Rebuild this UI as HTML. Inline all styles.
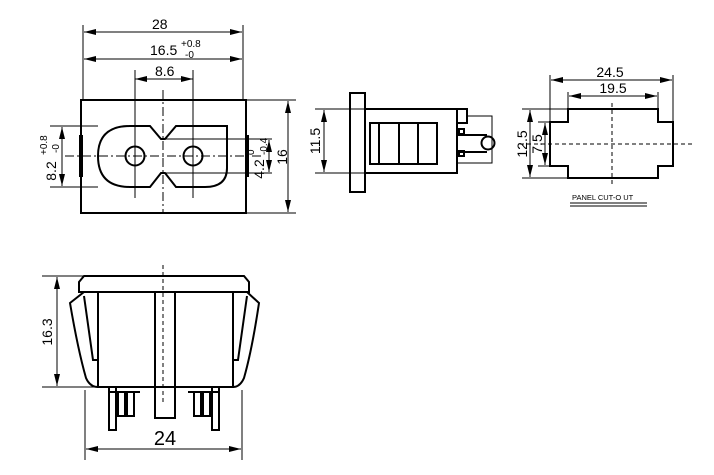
<!DOCTYPE html>
<html><head><meta charset="utf-8"><style>html,body{margin:0;padding:0;background:#fff}svg{display:block}</style></head>
<body>
<svg width="714" height="475" viewBox="0 0 714 475" xmlns="http://www.w3.org/2000/svg" font-family="Liberation Sans, sans-serif" fill="none" stroke="#000">
<defs>
<marker id="a" viewBox="0 0 12 6" refX="12" refY="3" markerWidth="12" markerHeight="6" orient="auto-start-reverse" markerUnits="userSpaceOnUse"><path d="M0,0 L12,3 L0,6z" fill="#000" stroke="none"/></marker>
</defs>
<g stroke-width="1">
<line x1="83" y1="25" x2="83" y2="100"/><line x1="243" y1="25" x2="243" y2="100"/>
<line x1="84" y1="32" x2="242" y2="32" marker-start="url(#a)" marker-end="url(#a)"/>
<line x1="84" y1="59" x2="242" y2="59" marker-start="url(#a)" marker-end="url(#a)"/>
<line x1="135" y1="70" x2="135" y2="198"/><line x1="193" y1="70" x2="193" y2="198"/>
<line x1="135" y1="79" x2="193" y2="79" marker-start="url(#a)" marker-end="url(#a)"/>
<line x1="163" y1="90" x2="163" y2="213" stroke-dasharray="9,3,2,3"/>
<line x1="65" y1="156" x2="262" y2="156" stroke-dasharray="9,3,2,3"/>
<line x1="50" y1="126" x2="98" y2="126"/><line x1="50" y1="187" x2="98" y2="187"/>
<line x1="62" y1="127" x2="62" y2="186" marker-start="url(#a)" marker-end="url(#a)"/>
<line x1="163" y1="139" x2="272" y2="139"/><line x1="163" y1="173" x2="272" y2="173"/>
<line x1="269" y1="140" x2="269" y2="172" marker-start="url(#a)" marker-end="url(#a)"/>
<line x1="246" y1="100" x2="296" y2="100"/><line x1="246" y1="213" x2="296" y2="213"/>
<line x1="288" y1="101" x2="288" y2="212" marker-start="url(#a)" marker-end="url(#a)"/>
</g>
<g stroke-width="2">
<rect x="81" y="100" width="165" height="113"/>
<path d="M130,126 H150 L161,139 H165 L176,126 H227 V168 Q227,187 205,187 H176 L165,173 H161 L150,187 H130 Q98,187 98,156 Q98,126 130,126Z"/>
<circle cx="135" cy="156" r="9.5"/><circle cx="193" cy="156" r="9.5"/>
</g>
<rect x="79" y="135" width="4" height="42" fill="#000" stroke="none"/>
<rect x="245" y="135" width="4" height="42" fill="#000" stroke="none"/>
<g fill="#000" stroke="none" font-size="14">
<text x="152" y="29">28</text>
<text x="150" y="55">16.5</text><text x="181" y="47" font-size="10">+0.8</text><text x="185" y="58" font-size="10">-0</text>
<text x="155" y="76">8.6</text>
<g transform="translate(56,157) rotate(-90)"><text x="-14" y="0" text-anchor="middle">8.2</text><text x="2" y="-9" font-size="10">+0.8</text><text x="4" y="3" font-size="10">-0</text></g>
<g transform="translate(264,157) rotate(-90)"><text x="-12" y="0" text-anchor="middle">4.2</text><text x="2" y="-10" font-size="10">0</text><text x="2" y="3" font-size="10">-0.4</text></g>
<text transform="translate(287,157) rotate(-90)" text-anchor="middle">16</text>
<text transform="translate(320,141) rotate(-90)" text-anchor="middle">11.5</text>
<text x="610" y="77" text-anchor="middle">24.5</text>
<text x="613" y="93" text-anchor="middle">19.5</text>
<text transform="translate(527,144) rotate(-90)" text-anchor="middle">12.5</text>
<text transform="translate(542,144) rotate(-90)" text-anchor="middle">7.5</text>
<text x="572" y="200" font-size="7.5">PANEL CUT-O UT</text>
<text transform="translate(52,332) rotate(-90)" text-anchor="middle">16.3</text>
<text x="165" y="445" text-anchor="middle" font-size="20">24</text>
</g>
<g stroke-width="1">
<line x1="315" y1="109" x2="365" y2="109"/><line x1="315" y1="173" x2="365" y2="173"/>
<line x1="324" y1="110" x2="324" y2="172" marker-start="url(#a)" marker-end="url(#a)"/>
</g>
<g stroke-width="2">
<rect x="350" y="93" width="15" height="99"/>
<rect x="365" y="109" width="92" height="64"/>
<rect x="370" y="123" width="67" height="41"/>
<line x1="379" y1="123" x2="379" y2="164"/><line x1="399" y1="123" x2="399" y2="164"/><line x1="418" y1="123" x2="418" y2="164"/>
<rect x="457" y="109" width="10" height="14"/>
<path d="M467,116 H492 V163 H457" stroke-width="1"/>
<line x1="457" y1="135" x2="487" y2="135"/><line x1="457" y1="152" x2="487" y2="152"/>
<rect x="459" y="129" width="5" height="5"/><rect x="459" y="151" width="5" height="5"/>
<circle cx="488" cy="143" r="6.5"/>
</g>
<g stroke-width="1">
<line x1="550" y1="75" x2="550" y2="122"/><line x1="673" y1="75" x2="673" y2="122"/>
<line x1="551" y1="80" x2="672" y2="80" marker-start="url(#a)" marker-end="url(#a)"/>
<line x1="568" y1="92" x2="568" y2="109"/><line x1="658" y1="92" x2="658" y2="109"/>
<line x1="569" y1="96" x2="657" y2="96" marker-start="url(#a)" marker-end="url(#a)"/>
<line x1="522" y1="109" x2="568" y2="109"/><line x1="522" y1="178" x2="568" y2="178"/>
<line x1="530" y1="110" x2="530" y2="177" marker-start="url(#a)" marker-end="url(#a)"/>
<line x1="538" y1="122" x2="550" y2="122"/><line x1="538" y1="166" x2="550" y2="166"/>
<line x1="545" y1="123" x2="545" y2="165" marker-start="url(#a)" marker-end="url(#a)"/>
<line x1="612" y1="103" x2="612" y2="185" stroke-dasharray="4,3"/>
<line x1="520" y1="144" x2="692" y2="144" stroke-dasharray="4,3"/>
<line x1="570" y1="203" x2="647" y2="203"/><line x1="570" y1="206" x2="647" y2="206"/>
</g>
<path stroke-width="2" d="M568,109 H658 V122 H673 V166 H658 V178 H568 V166 H550 V122 H568Z"/>
<g stroke-width="1">
<line x1="42" y1="276" x2="97" y2="276"/><line x1="42" y1="387" x2="97" y2="387"/>
<line x1="57" y1="277" x2="57" y2="386" marker-start="url(#a)" marker-end="url(#a)"/>
<line x1="85" y1="390" x2="85" y2="460"/><line x1="242" y1="390" x2="242" y2="460"/>
<line x1="86" y1="449" x2="241" y2="449" marker-start="url(#a)" marker-end="url(#a)"/>
<line x1="163" y1="265" x2="163" y2="402" stroke-dasharray="4,3"/>
</g>
<g stroke-width="2">
<path d="M84,276 H244 L249,282 V292 H79 V282Z"/>
<rect x="98" y="292" width="135" height="95"/>
<path d="M98,292 H84 L70,303 Q78,350 86,378 Q90,387 98,387"/>
<path d="M84,296 L93,360 H98"/>
<path d="M233,292 H247 L259,303 Q252,350 244,378 Q240,387 233,387"/>
<path d="M247,296 L238,360 H233"/>
<rect x="155" y="292" width="20" height="126"/>
<line x1="109" y1="392" x2="140" y2="392"/><line x1="188" y1="392" x2="219" y2="392"/>
<rect x="109" y="387" width="7" height="43"/>
<rect x="118" y="392" width="7" height="24"/><rect x="127" y="392" width="7" height="24"/>
<rect x="212" y="387" width="7" height="43"/>
<rect x="194" y="392" width="7" height="24"/><rect x="203" y="392" width="7" height="24"/>
</g>
</svg>
</body></html>
